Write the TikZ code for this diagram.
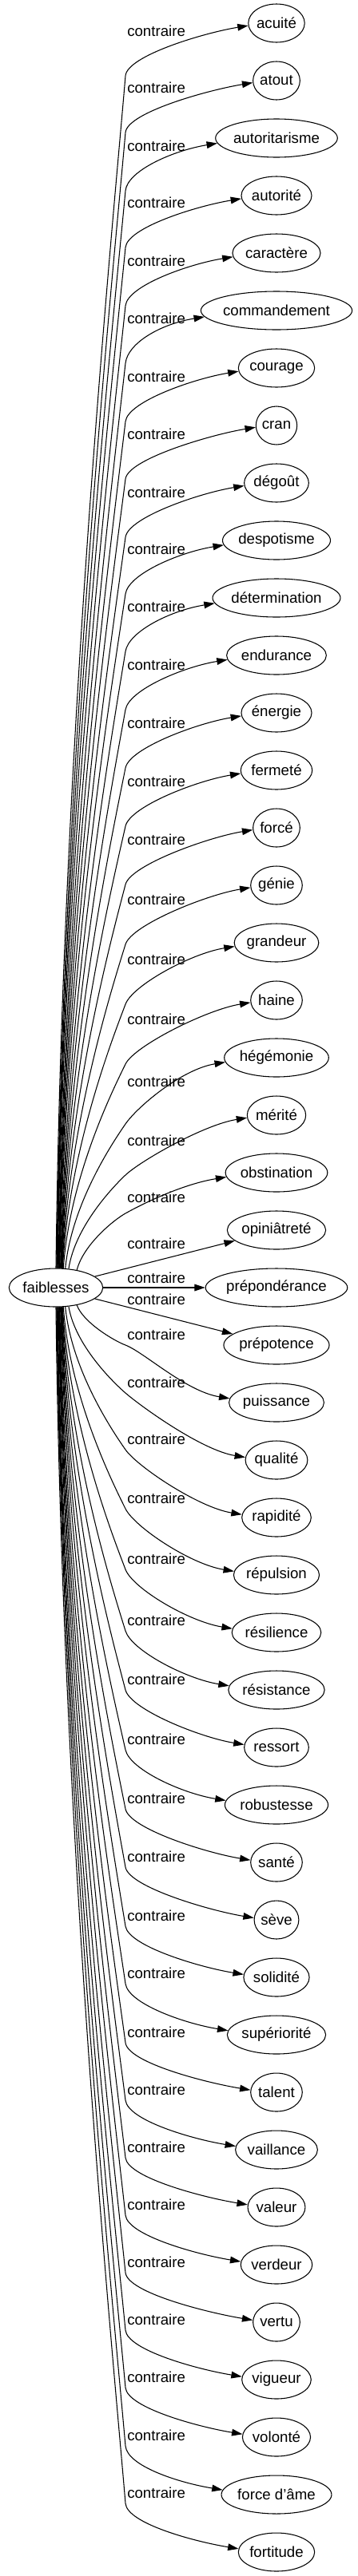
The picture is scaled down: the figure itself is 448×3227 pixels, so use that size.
\documentclass[tikz,border=0pt]{standalone}
\usepackage{fontspec}
\setmainfont{Liberation Sans}
\usetikzlibrary{arrows.meta,calc,shapes.geometric}
\newlength\twid
\begin{document}
\begin{tikzpicture}[x=0.75pt,y=-0.75pt,
  every node/.style={font=\fontsize{14pt}{16pt}\selectfont},
  term/.style={draw, ellipse, inner sep=0pt, minimum height=36pt, line width=0.8pt},
  lbl/.style={anchor=base west, inner sep=0pt},
  conn/.style={line width=0.8pt, -{Triangle[length=10pt,width=6.5pt]}}]
\useasboundingbox (0,0) rectangle (448,3227);
\settowidth{\twid}{\fontsize{14pt}{16pt}\selectfont faiblesses}
\pgfmathsetlengthmacro\ellw{1.21*(\twid+19.2pt)}
\node[term, minimum width=\ellw] (f) at (70,1613) {faiblesses};
\foreach \i/\txt/\lab in {0/acuité/40, 1/atout/111, 2/autoritarisme/184, 3/autorité/255,
  4/caractère/328, 5/commandement/400, 6/courage/473, 7/cran/545, 8/dégoût/618,
  9/despotisme/689, 10/détermination/761, 11/endurance/834, 12/énergie/907,
  13/fermeté/980, 14/forcé/1053, 15/génie/1128, 16/grandeur/1203, 17/haine/1278,
  18/hégémonie/1356, 19/mérité/1430, 20/obstination/1501, 21/opiniâtreté/1559,
  22/prépondérance/1602, 23/prépotence/1629, 24/puissance/1673, 25/qualité/1733,
  26/rapidité/1804, 27/répulsion/1878, 28/résilience/1954, 29/résistance/2031,
  30/ressort/2105, 31/robustesse/2180, 32/santé/2254, 33/sève/2327, 34/solidité/2401,
  35/supériorité/2473, 36/talent/2547, 37/vaillance/2619, 38/valeur/2691,
  39/verdeur/2763, 40/vertu/2835, 41/vigueur/2907, 42/volonté/2979,
  43/force d'âme/3052, 44/fortitude/3124}{
  \pgfmathsetmacro\T{29+72*\i}
  \settowidth{\twid}{\fontsize{14pt}{16pt}\selectfont\txt}
  \pgfmathsetlengthmacro\ellw{1.21*(\twid+19.2pt)}
  \node[term, minimum width=\ellw] (t\i) at (346,\T) {\txt};
  \node[lbl] (l\i) at (159,\lab+5) {contraire};
}
% upper curved edges
\foreach \i/\lab/\dx/\off in {0/40/0/55, 1/111/0.5/55, 2/184/1/55, 3/255/1.5/55,
  4/328/2/55, 5/400/2.5/55, 6/473/3/55, 7/545/3.5/55, 8/618/4/55, 9/689/4.5/55,
  10/761/5/55, 11/834/5.5/55, 12/907/6/55, 13/980/6.5/55, 14/1053/7/55,
  15/1128/7.5/55, 16/1203/8/55, 17/1278/8.5/55, 18/1356/11/52, 19/1430/15/42,
  20/1501/25/19}{
  \pgfmathsetmacro\ang{atan2(23.5*sqrt(1-(\dx/65)^2),\dx)}
  \pgfmathsetmacro\pY{\lab+\off}
  \pgfmathsetmacro\D{1590-\pY}
  \coordinate (b\i) at (157,\pY);
  \coordinate (q1) at ($(f.\ang)+(8,-0.45*\D)$);
  \coordinate (q2) at ($(b\i)+(-15,0.12*\D)$);
  \coordinate (q3) at ($(b\i)!-19pt!(q2)$);
  \coordinate (q4) at ($(t\i.185)+(-55,9)$);
  \draw[conn] (f.\ang) .. controls (q1) and (q2) .. (b\i) .. controls (q3) and (q4) .. (t\i.185);
}
% lower curved edges
\foreach \i/\lab/\dx in {24/1673/25, 25/1733/15, 26/1804/11, 27/1878/8.5,
  28/1954/8, 29/2031/7.5, 30/2105/7, 31/2180/6.5, 32/2254/6, 33/2327/5.5,
  34/2401/5, 35/2473/4.5, 36/2547/4, 37/2619/3.5, 38/2691/3, 39/2763/2.5,
  40/2835/2, 41/2907/1.5, 42/2979/1, 43/3052/0.5, 44/3124/0}{
  \pgfmathsetmacro\ang{-atan2(23.5*sqrt(1-(\dx/65)^2),\dx)}
  \pgfmathsetmacro\pY{\lab+12}
  \pgfmathsetmacro\D{\pY-1637}
  \coordinate (b\i) at (157,\pY);
  \coordinate (q1) at ($(f.\ang)+(8,0.45*\D)$);
  \coordinate (q2) at ($(b\i)+(-15,-0.12*\D)$);
  \coordinate (q3) at ($(b\i)!-19pt!(q2)$);
  \coordinate (q4) at ($(t\i.175)+(-55,-9)$);
  \draw[conn] (f.\ang) .. controls (q1) and (q2) .. (b\i) .. controls (q3) and (q4) .. (t\i.175);
}
% straight edges near the middle
\draw[conn] (f.16.7) -- (t21);
\draw[conn] (f.east) -- (t22.west);
\draw[conn] (f.-16.7) -- (t23);
\end{tikzpicture}
\end{document}
